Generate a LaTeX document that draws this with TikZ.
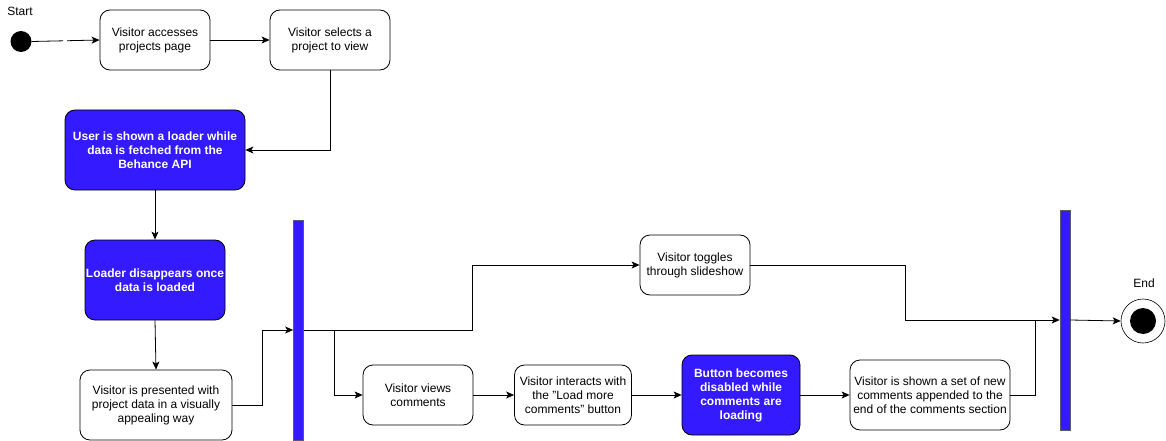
\documentclass[tikz,border=0pt]{standalone}
\usepackage{fontspec}
\setmainfont{Liberation Sans}
\usetikzlibrary{arrows.meta}
\definecolor{actblue}{RGB}{51,26,255}
\definecolor{barline}{RGB}{90,90,110}
\begin{document}
\begin{tikzpicture}[x=1pt,y=-1pt,
  every node/.style={font=\fontsize{12}{14}\selectfont, inner sep=0pt},
  act/.style={draw=black, line width=0.8pt, rounded corners=10pt, fill=white, align=center},
  hot/.style={act, fill=actblue, text=white, font=\fontsize{12}{14}\selectfont\bfseries},
  forkbar/.style={draw=barline, line width=0.7pt, fill=actblue, minimum width=10pt},
  arr/.style={line width=0.8pt, -{Stealth[length=8pt,width=7pt,inset=2pt]}},
  ln/.style={line width=0.8pt}]
\useasboundingbox (0,0) rectangle (1166,441);

% start and end states
\node (startlbl) at (20,11) {Start};
\node[circle, fill=black, minimum size=21pt] (start) at (21,41.5) {};
\node (endlbl) at (1144,283) {End};
\node[circle, draw=black, line width=0.6pt, minimum size=44pt] (finish) at (1143,321) {};
\node[circle, fill=black, minimum size=26pt] (finishdot) at (1143,321) {};

% activities
\node[act, minimum width=110pt, minimum height=60pt] (b1) at (155,40) {Visitor accesses\\projects page};
\node[act, minimum width=120pt, minimum height=60pt] (b2) at (330,40) {Visitor selects a\\project to view};
\node[hot, minimum width=180pt, minimum height=80pt] (b3) at (155,150) {User is shown a loader while\\data is fetched from the\\Behance API};
\node[hot, minimum width=140pt, minimum height=80pt] (b4) at (155,280) {Loader disappears once\\data is loaded};
\node[act, minimum width=152pt, minimum height=70pt] (b5) at (156,405) {Visitor is presented with\\project data in a visually\\appealing way};
\node[act, minimum width=110pt, minimum height=60pt] (b6) at (695,265) {Visitor toggles\\through slideshow};
\node[act, minimum width=110pt, minimum height=60pt] (b7) at (418,395) {Visitor views\\comments};
\node[act, minimum width=117pt, minimum height=60pt] (b8) at (573,395) {Visitor interacts with\\the \symbol{34}Load more\\comments\symbol{34} button};
\node[hot, minimum width=118pt, minimum height=80pt] (b9) at (741,395) {Button becomes\\disabled while\\comments are\\loading};
\node[act, minimum width=160pt, minimum height=70pt] (b10) at (930,395) {Visitor is shown a set of new\\comments appended to the\\end of the comments section};

% fork and join bars
\node[forkbar, minimum height=220pt] (fork) at (298.5,330) {};
\node[forkbar, minimum height=220pt] (join) at (1065,320) {};
\coordinate (split) at (334,330);
\coordinate (merge) at (1035,320);

% flow
\draw[arr, dash pattern=on 31.5pt off 4pt on 200pt] (start.east) -- (b1.west);
\draw[arr] (b1.east) -- (b2.west);
\draw[arr] (b2.south) |- (b3.east);
\draw[arr] (b3.south) -- (b4.north);
\draw[arr] (b4.south) -- (b5.north);
\draw[arr] (b5.east) -- ++(30,0) |- (fork.west);
\draw[arr] (fork.east) -- (472,330) |- (b6.west);
\draw[arr] (split) |- (b7.west);
\draw[arr] (b7.east) -- (b8.west);
\draw[arr] (b8.east) -- (b9.west);
\draw[arr] (b9.east) -- (b10.west);
\draw[arr] (b6.east) -- (905,265) |- (join.west);
\draw[ln] (b10.east) -| (merge);
\draw[arr] (join.east) -- (finish.west);
\end{tikzpicture}
\end{document}
